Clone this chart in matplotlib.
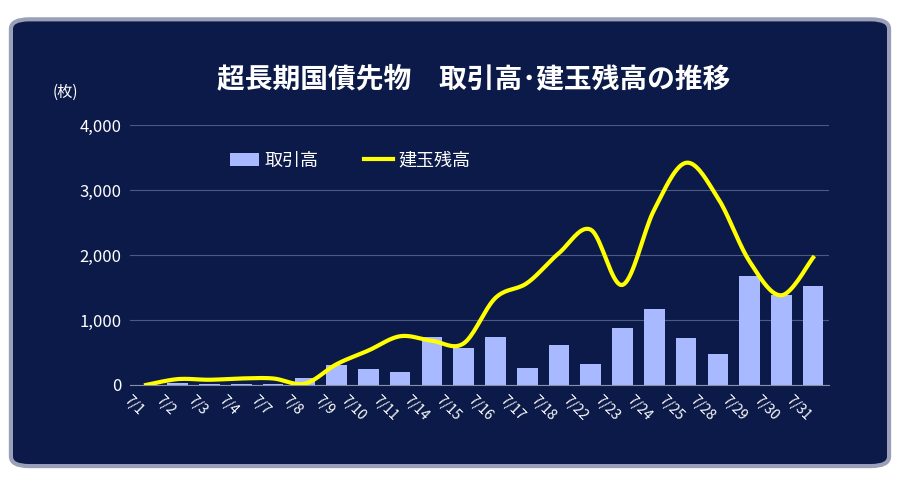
import numpy as np
import matplotlib.pyplot as plt
from matplotlib.patches import FancyBboxPatch

plt.rcParams['font.family'] = ['Noto Sans CJK JP', 'DejaVu Sans']

dates = ["7/1","7/2","7/3","7/4","7/7","7/8","7/9","7/10","7/11","7/14","7/15","7/16",
         "7/17","7/18","7/22","7/23","7/24","7/25","7/28","7/29","7/30","7/31"]
volume = [5,30,10,20,10,100,300,250,200,740,570,740,260,615,320,880,1170,720,480,1680,1390,1520]
open_interest = [0,90,80,100,100,20,320,530,750,680,640,1340,1570,2030,2390,1540,2700,3420,2880,1900,1380,1960]

fig = plt.figure(figsize=(9.10,4.83), dpi=100)
fig.patch.set_facecolor('white')
bgax = fig.add_axes([0,0,1,1], zorder=-10)
bgax.set_axis_off()
bgax.set_xlim(0,1); bgax.set_ylim(0,1)
bgax.add_patch(FancyBboxPatch((0.012,0.035),0.965,0.925, boxstyle="round,pad=0,rounding_size=0.02",
                    facecolor='#0b1a48', edgecolor='#9aa0b8', lw=3))

ax = fig.add_axes([0.143,0.203,0.768,0.538])
ax.set_facecolor('none')
x = np.arange(len(dates))
ax.bar(x, volume, width=0.65, color='#a9b9ff', label='取引高', zorder=2)

pts = np.column_stack([x, open_interest]).astype(float)
P = np.vstack([pts[0], pts, pts[-1]])
xs, ys = [], []
t = np.linspace(0, 1, 20)
for i in range(1, len(P)-2):
    p0, p1, p2, p3 = P[i-1], P[i], P[i+1], P[i+2]
    for tt in t:
        c = 0.5*((2*p1) + (-p0+p2)*tt + (2*p0-5*p1+4*p2-p3)*tt**2 + (-p0+3*p1-3*p2+p3)*tt**3)
        xs.append(c[0]); ys.append(c[1])
ax.plot(xs, ys, color='#ffff00', lw=3, label='建玉残高', zorder=3)

ax.set_xlim(-0.5, len(dates)-0.5)
ax.set_ylim(0, 4000)
ax.set_yticks([0,1000,2000,3000,4000])
ax.set_yticklabels(['0','1,000','2,000','3,000','4,000'], color='white', fontsize=12)
ax.set_xticks(x)
ax.set_xticklabels(dates, rotation=-45, ha='right', color='white', fontsize=10)
ax.tick_params(length=0, pad=6)
ax.grid(axis='y', color='#4a5a80', lw=0.8, zorder=0)
for s in ['top','right','left']:
    ax.spines[s].set_visible(False)
ax.spines['bottom'].set_color('#8890a8')

h, l = ax.get_legend_handles_labels()
ax.legend(h[::-1], l[::-1], loc='upper left', bbox_to_anchor=(0.12, 0.96), ncol=2, frameon=False,
          fontsize=13, labelcolor='white', handlelength=1.6, handletextpad=0.3, columnspacing=2.5)
fig.text(0.52, 0.82, '超長期国債先物　取引高･建玉残高の推移', color='white', fontsize=20,
         fontweight='bold', ha='center')
fig.text(0.058, 0.80, '(枚)', color='white', fontsize=11)
fig.savefig('out.png', dpi=100, facecolor='white')
